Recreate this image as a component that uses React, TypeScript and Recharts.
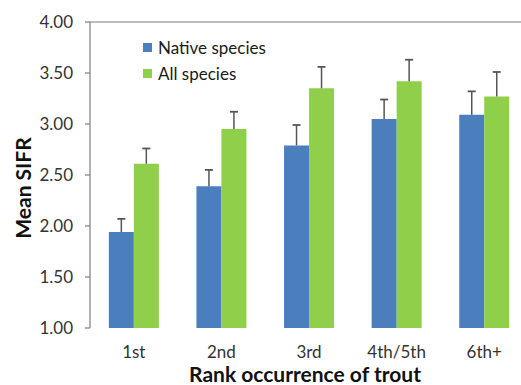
import React from 'react';
import { BarChart, Bar, XAxis, YAxis, Legend, ReferenceLine } from 'recharts';

const categories = ['1st', '2nd', '3rd', '4th/5th', '6th+'];
const nativeMeans = [1.94, 2.39, 2.79, 3.05, 3.09];
const nativeErr = [0.13, 0.16, 0.2, 0.19, 0.23];
const allMeans = [2.61, 2.95, 3.35, 3.42, 3.27];
const allErr = [0.15, 0.17, 0.21, 0.21, 0.24];
const yTicks = [1, 1.5, 2, 2.5, 3, 3.5, 4];
const boundaryTicks = [0, 1, 2, 3, 4, 5];

const data = categories.map((c, i) => ({
  cat: c,
  idx: i,
  native: nativeMeans[i],
  nativeE: nativeErr[i],
  all: allMeans[i],
  allE: allErr[i],
}));

const BLUE = '#4a7ebd';
const GREEN = '#8fcf4a';
const ERR = '#555';
const FONT = 'Lato, "Open Sans", sans-serif';

const ErrShape = (props: any) => {
  const { x, y, width, height } = props;
  const cx = x + width / 2;
  return (
    <g>
      <line x1={cx} x2={cx} y1={y} y2={y + height} stroke={ERR} strokeWidth={1.5} />
      <line x1={cx - 4} x2={cx + 4} y1={y} y2={y} stroke={ERR} strokeWidth={1.8} />
    </g>
  );
};

const LegendContent = () => (
  <div style={{ fontFamily: FONT, fontSize: 17, color: '#1a1a1a' }}>
    {[
      { label: 'Native species', color: BLUE },
      { label: 'All species', color: GREEN },
    ].map((it) => (
      <div key={it.label} style={{ display: 'flex', alignItems: 'center', height: 26 }}>
        <span style={{ display: 'inline-block', width: 9, height: 9, background: it.color, marginRight: 6 }} />
        <span>{it.label}</span>
      </div>
    ))}
  </div>
);

export default function App() {
  return (
    <div style={{ position: 'absolute', left: 0, top: 0, width: 521, height: 385, overflow: 'hidden', background: '#fff' }}>
      <BarChart
        width={540}
        height={385}
        data={data}
        margin={{ top: 22, right: 12, bottom: 27, left: 0 }}
        barGap={0}
        barCategoryGap="21.5%"
      >
        <XAxis
          xAxisId="b"
          type="number"
          dataKey="idx"
          domain={[0, 5]}
          ticks={boundaryTicks}
          tick={false}
          tickSize={6}
          height={0}
          axisLine={{ stroke: '#7f7f7f', strokeWidth: 1.2 }}
          tickLine={{ stroke: '#7f7f7f', strokeWidth: 1.2 }}
        />
        <XAxis xAxisId="err" dataKey="cat" hide />
        <XAxis
          dataKey="cat"
          height={30}
          axisLine={false}
          tickLine={false}
          tickSize={6}
          tickMargin={12}
          tick={{ fill: '#333', fontSize: 17, fontFamily: FONT }}
          label={({ viewBox }: any) => (
            <text
              x={viewBox.x + viewBox.width / 2 - 4}
              y={382}
              textAnchor="middle"
              fontFamily={FONT}
              fontWeight="bold"
              fontSize={21}
              fill="#111"
            >
              Rank occurrence of trout
            </text>
          )}
        />
        <YAxis
          domain={[1, 4]}
          ticks={yTicks}
          width={90}
          allowDataOverflow
          tickFormatter={(v: number) => v.toFixed(2)}
          tickSize={5}
          tickMargin={12}
          tick={{ fill: '#333', fontSize: 17, fontFamily: FONT }}
          axisLine={{ stroke: '#7f7f7f', strokeWidth: 1.2 }}
          tickLine={{ stroke: '#7f7f7f', strokeWidth: 1.2 }}
          label={() => (
            <text
              x={22}
              y={188}
              transform="rotate(-90, 22, 188)"
              textAnchor="middle"
              dominantBaseline="central"
              fontFamily={FONT}
              fontWeight="bold"
              fontSize={21}
              fill="#111"
            >
              Mean SIFR
            </text>
          )}
        />
        <ReferenceLine y={4} stroke="#7f7f7f" strokeWidth={1.2} />
        <Legend
          verticalAlign="middle"
          align="center"
          layout="vertical"
          content={<LegendContent />}
          wrapperStyle={{ left: 143, top: 34, width: 180, position: 'absolute' }}
        />
        <Bar dataKey="native" fill={BLUE} isAnimationActive={false} />
        <Bar dataKey="all" fill={GREEN} isAnimationActive={false} />
        <Bar xAxisId="err" stackId="n" dataKey="native" fill="none" isAnimationActive={false} legendType="none" />
        <Bar xAxisId="err" stackId="n" dataKey="nativeE" shape={ErrShape} isAnimationActive={false} legendType="none" />
        <Bar xAxisId="err" stackId="a" dataKey="all" fill="none" isAnimationActive={false} legendType="none" />
        <Bar xAxisId="err" stackId="a" dataKey="allE" shape={ErrShape} isAnimationActive={false} legendType="none" />
      </BarChart>
    </div>
  );
}
